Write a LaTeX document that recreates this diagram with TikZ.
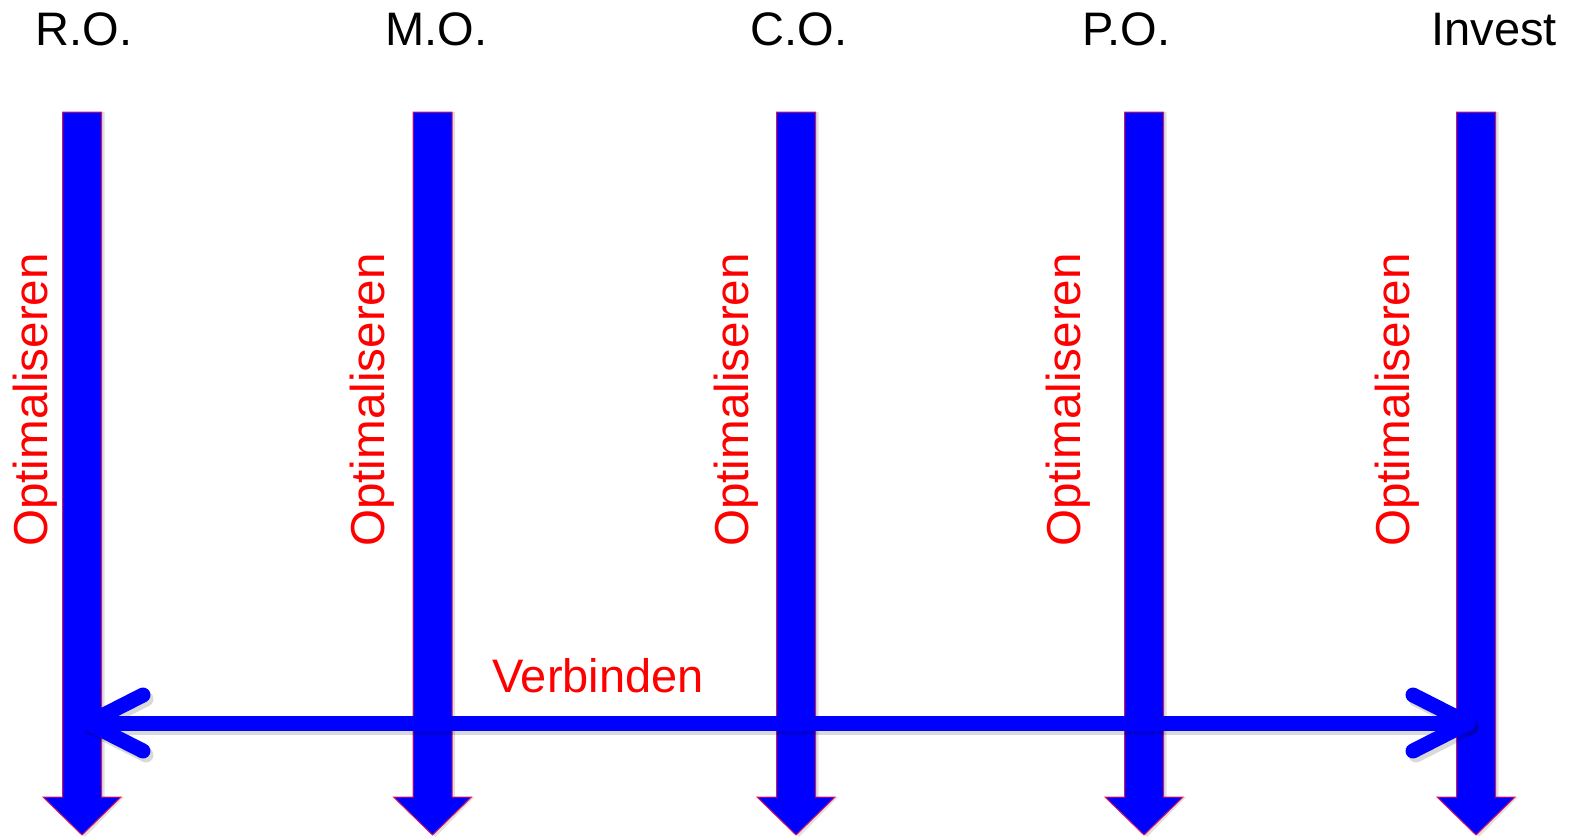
\documentclass[tikz,border=0pt]{standalone}
\usepackage{fontspec}
\setmainfont{Liberation Sans}
\usetikzlibrary{calc}
\definecolor{arrowblue}{RGB}{0,0,255}
\definecolor{edgered}{RGB}{215,20,95}
\definecolor{txtred}{RGB}{255,0,0}
\tikzset{
  title/.style={anchor=base, inner sep=0pt, font=\fontsize{47}{56}\selectfont, text=black},
  optlabel/.style={rotate=90, anchor=base west, inner sep=0pt, font=\fontsize{47.6}{57}\selectfont, text=txtred},
  vlabel/.style={anchor=base west, inner sep=0pt, font=\fontsize{47}{56}\selectfont, text=txtred},
  blockarrow/.style={fill=arrowblue, draw=edgered, line width=1pt, line join=miter},
  blockshadow/.style={fill=black, opacity=0.12},
  connline/.style={draw=arrowblue, line width=15pt, line cap=round, line join=round},
  connshadow/.style={draw=black, opacity=0.15, line width=15pt, line cap=round, line join=round}
}
\begin{document}
\begin{tikzpicture}[x=1pt,y=-1pt]
\useasboundingbox (0,0) rectangle (1569,839);
% titles
\node[title] (tRO) at (84,45) {R.O.};
\node[title] (tMO) at (436.5,45) {M.O.};
\node[title] (tCO) at (799,45) {C.O.};
\node[title] (tPO) at (1126.5,45) {P.O.};
\node[title] (tIN) at (1494,45) {Invest};
% vertical block arrows
\foreach \n/\cx in {RO/82, MO/432.5, CO/796, PO/1144, IN/1476}{
  \coordinate (top\n) at (\cx,112);
  \coordinate (tip\n) at (\cx,835);
  \fill[blockshadow] ($(top\n)+(-19.5+3,0)$) -- ($(top\n)+(19.5+3,0)$) -- ($(tip\n)+(19.5+3,-38)$) -- ($(tip\n)+(39+3,-38)$) -- ($(tip\n)+(3,2)$) -- ($(tip\n)+(-39+3,-38)$) -- ($(tip\n)+(-19.5+3,-38)$) -- cycle;
  \path[blockarrow] ($(top\n)+(-19.5,0)$) -- ($(top\n)+(19.5,0)$) -- ($(tip\n)+(19.5,-38)$) -- ($(tip\n)+(39,-38)$) -- (tip\n) -- ($(tip\n)+(-39,-38)$) -- ($(tip\n)+(-19.5,-38)$) -- cycle;
}
% labels
\node[optlabel] (oRO) at (47,547) {Optimaliseren};
\node[optlabel] (oMO) at (384,547) {Optimaliseren};
\node[optlabel] (oCO) at (748,547) {Optimaliseren};
\node[optlabel] (oPO) at (1080,547) {Optimaliseren};
\node[optlabel] (oIN) at (1409,547) {Optimaliseren};
\node[vlabel] (verb) at (492,692) {Verbinden};
% horizontal double arrow
\coordinate (hL) at (88,723);
\coordinate (hR) at (1468,723);
\draw[connshadow] ($(hL)+(3,4)$) -- ($(hR)+(3,4)$);
\draw[connshadow] ($(hL)+(55,-28)+(3,4)$) -- ($(hL)+(3,4)$) -- ($(hL)+(55,28)+(3,4)$);
\draw[connshadow] ($(hR)+(-55,-28)+(3,4)$) -- ($(hR)+(3,4)$) -- ($(hR)+(-55,28)+(3,4)$);
\draw[connline] (hL) -- (hR);
\draw[connline] ($(hL)+(55,-28)$) -- (hL) -- ($(hL)+(55,28)$);
\draw[connline] ($(hR)+(-55,-28)$) -- (hR) -- ($(hR)+(-55,28)$);
\end{tikzpicture}
\end{document}
